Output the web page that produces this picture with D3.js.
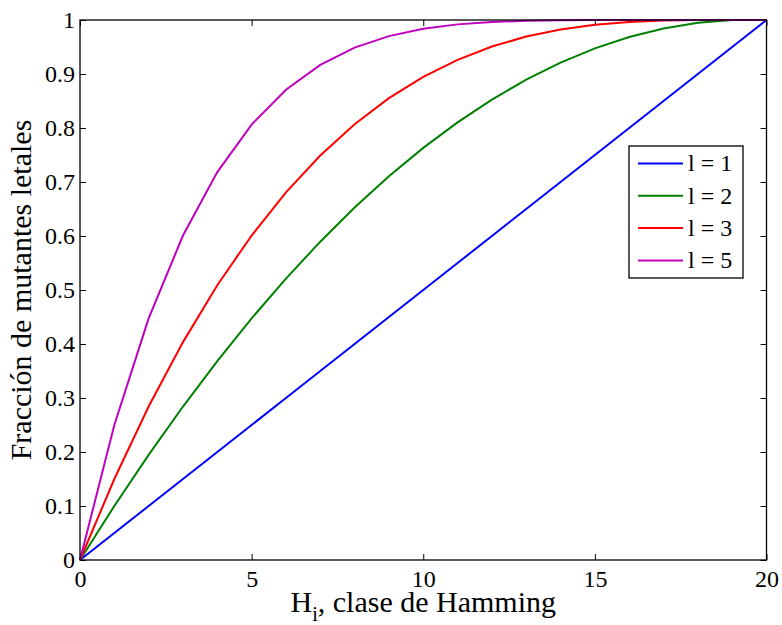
<!DOCTYPE html>
<html><head><meta charset="utf-8">
<script src="https://cdn.jsdelivr.net/npm/d3@7/dist/d3.min.js"></script>
<style>body{margin:0;background:#fff}svg{display:block}
svg text{font-family:"Liberation Serif","Times New Roman",Times,Tinos,"DejaVu Serif",serif !important}</style>
</head><body><svg id="c" width="782" height="625"></svg>
<script>
const H = d3.range(0, 21);
const l1 = [0,0.05,0.10,0.15,0.20,0.25,0.30,0.35,0.40,0.45,0.50,0.55,0.60,0.65,0.70,0.75,0.80,0.85,0.90,0.95,1.00];
const l2 = [0,0.1000,0.1947,0.2842,0.3684,0.4474,0.5211,0.5895,0.6526,0.7105,0.7632,0.8105,0.8526,0.8895,0.9211,0.9474,0.9684,0.9842,0.9947,1.0000,1.0000];
const l3 = [0,0.1500,0.2842,0.4035,0.5088,0.6009,0.6807,0.7491,0.8070,0.8553,0.8947,0.9263,0.9509,0.9693,0.9825,0.9912,0.9965,0.9991,1.0000,1.0000,1.0000];
const l5 = [0,0.2500,0.4474,0.6009,0.7183,0.8063,0.8709,0.9170,0.9489,0.9702,0.9837,0.9919,0.9964,0.9986,0.9996,0.9999,1.0000,1.0000,1.0000,1.0000,1.0000];
const seriesNames = ["l = 1","l = 2","l = 3","l = 5"];
const seriesColors = ["#0000ff","#008000","#ff0000","#bf00bf"];
const seriesValues = [l1,l2,l3,l5];
const xTicks = [0,5,10,15,20];
const yTicks = [0,0.1,0.2,0.3,0.4,0.5,0.6,0.7,0.8,0.9,1];

const svg = d3.select("#c");
const L=80, R=766.5, T=20, B=560;
const x = d3.scaleLinear().domain([0,20]).range([L,R]);
const y = d3.scaleLinear().domain([0,1]).range([B,T]);

const fmt = d => d3.format("~g")(d);
const gb = svg.append("g").attr("transform",`translate(0,${B})`).call(d3.axisBottom(x).tickValues(xTicks).tickSize(-6).tickPadding(10).tickFormat(fmt));
const gt = svg.append("g").attr("transform",`translate(0,${T})`).call(d3.axisTop(x).tickValues(xTicks).tickSize(-6).tickFormat(""));
const gl = svg.append("g").attr("transform",`translate(${L},0)`).call(d3.axisLeft(y).tickValues(yTicks).tickSize(-6).tickPadding(5).tickFormat(fmt));
const gr = svg.append("g").attr("transform",`translate(${R},0)`).call(d3.axisRight(y).tickValues(yTicks).tickSize(-6).tickFormat(""));
[gb,gt,gl,gr].forEach(g=>{
  g.attr("font-family",null).attr("font-size",null);
  g.select(".domain").remove();
  g.selectAll(".tick line").attr("stroke","#000").attr("stroke-width",1);
  g.selectAll("text").style("font-size","24px").attr("fill","#000");
});
gb.selectAll("text").attr("dy","0.72em");
gl.selectAll("text").attr("dy","0.33em");

const line = d3.line().x((d,i)=>x(H[i])).y(d=>y(d));
seriesValues.forEach((vals,k)=>{
  svg.append("path").datum(vals).attr("d",line).attr("fill","none")
    .attr("stroke",seriesColors[k]).attr("stroke-width",2);
});

svg.append("rect").attr("x",L).attr("y",T).attr("width",R-L).attr("height",B-T)
  .attr("fill","none").attr("stroke","#000").attr("stroke-width",1.3);

const xl = svg.append("text").attr("x",(L+R)/2).attr("y",612).attr("text-anchor","middle")
  .style("font-size","30px").attr("fill","#000");
xl.append("tspan").text("H");
xl.append("tspan").style("font-size","20px").attr("dy",9).text("i");
xl.append("tspan").attr("dy",-9).text(", clase de Hamming");

svg.append("text").attr("transform",`translate(31,${(T+B)/2}) rotate(-90)`).attr("text-anchor","middle")
  .style("font-size","30px").attr("fill","#000").text("Fracción de mutantes letales");

const lg = svg.append("g");
lg.append("rect").attr("x",629).attr("y",146).attr("width",114).attr("height",132)
  .attr("fill","#fff").attr("stroke","#000").attr("stroke-width",1.3);
seriesNames.forEach((n,k)=>{
  const yy = 163.5 + k*32.3;
  lg.append("line").attr("x1",638).attr("x2",683).attr("y1",yy).attr("y2",yy)
    .attr("stroke",seriesColors[k]).attr("stroke-width",2);
  lg.append("text").attr("x",688).attr("y",yy).attr("dy","0.33em").style("font-size","24px")
    .attr("fill","#000").text(n);
});
</script></body></html>
